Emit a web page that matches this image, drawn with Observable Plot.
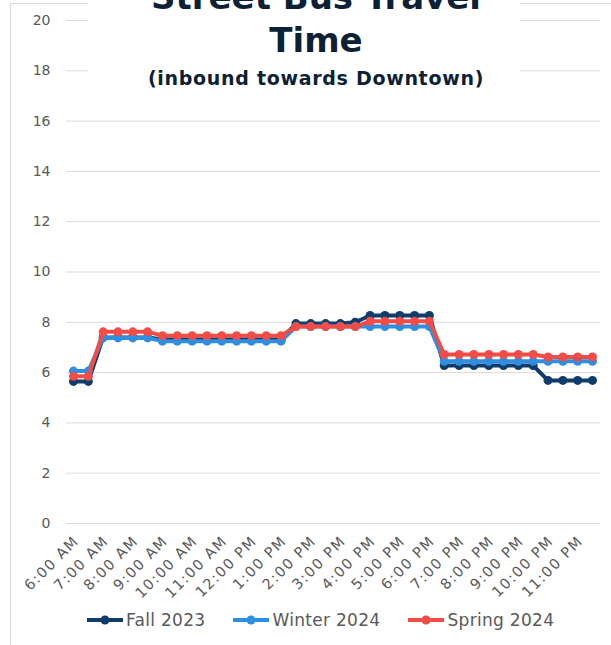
<!DOCTYPE html>
<html><head><meta charset="utf-8">
<script src="https://cdn.jsdelivr.net/npm/d3@7"></script>
<script src="https://cdn.jsdelivr.net/npm/@observablehq/plot@0.6"></script>
<style>
body{margin:0;background:#fff;font-family:"DejaVu Sans",sans-serif;}
#wrap{position:relative;width:611px;height:645px;overflow:hidden;background:#fff;}
#frame{position:absolute;left:10px;top:3px;width:700px;height:700px;border-left:1px solid #d9d9d9;border-top:1px solid #d9d9d9;}
#chart{position:absolute;left:0;top:0;}
#titlebox{position:absolute;left:88px;top:0;width:432px;height:96px;background:#fff;overflow:hidden;color:#0d2136;}
.tl{position:absolute;left:24px;right:0;text-align:center;font-weight:bold;font-size:34px;line-height:40px;white-space:nowrap;}
.sub{position:absolute;left:24px;right:0;text-align:center;font-weight:bold;font-size:19px;letter-spacing:0.7px;line-height:22px;top:67px;white-space:nowrap;}
#legend{position:absolute;left:86px;top:610px;display:flex;align-items:center;font-size:17px;letter-spacing:0.3px;color:#595959;}
#legend .item{display:flex;align-items:center;margin-right:27px;}
#legend svg{margin-right:2px;}
#chart svg g[aria-label="x-axis tick label"] text{letter-spacing:1.5px;}
</style></head>
<body>
<div id="wrap">
  <div id="frame"></div>
  <div id="chart"></div>
  <div id="titlebox">
    <div class="tl" style="top:-23px">Street Bus Travel</div>
    <div class="tl" style="top:20px">Time</div>
    <div class="sub">(inbound towards Downtown)</div>
  </div>
  <div id="legend"></div>
</div>
<script>
const times = ["6:00 AM","6:30 AM","7:00 AM","7:30 AM","8:00 AM","8:30 AM","9:00 AM","9:30 AM","10:00 AM","10:30 AM","11:00 AM","11:30 AM","12:00 PM","12:30 PM","1:00 PM","1:30 PM","2:00 PM","2:30 PM","3:00 PM","3:30 PM","4:00 PM","4:30 PM","5:00 PM","5:30 PM","6:00 PM","6:30 PM","7:00 PM","7:30 PM","8:00 PM","8:30 PM","9:00 PM","9:30 PM","10:00 PM","10:30 PM","11:00 PM","11:30 PM"];
const hourLabels = ["6:00 AM","7:00 AM","8:00 AM","9:00 AM","10:00 AM","11:00 AM","12:00 PM","1:00 PM","2:00 PM","3:00 PM","4:00 PM","5:00 PM","6:00 PM","7:00 PM","8:00 PM","9:00 PM","10:00 PM","11:00 PM"];
const yTicks = [0,2,4,6,8,10,12,14,16,18,20];
const fall   = [5.65,5.65,7.40,7.40,7.40,7.40,7.32,7.32,7.32,7.32,7.32,7.32,7.32,7.32,7.32,7.95,7.95,7.95,7.95,8.00,8.27,8.27,8.27,8.27,8.27,6.28,6.28,6.28,6.28,6.28,6.28,6.28,5.69,5.69,5.69,5.69];
const winter = [6.06,6.06,7.38,7.38,7.38,7.38,7.25,7.25,7.25,7.25,7.25,7.25,7.25,7.25,7.25,7.83,7.83,7.83,7.83,7.83,7.83,7.83,7.83,7.83,7.83,6.45,6.45,6.45,6.45,6.45,6.45,6.45,6.45,6.45,6.45,6.45];
const spring = [5.85,5.85,7.62,7.62,7.62,7.62,7.47,7.47,7.47,7.47,7.47,7.47,7.47,7.47,7.47,7.83,7.83,7.83,7.83,7.83,8.04,8.04,8.04,8.04,8.04,6.72,6.72,6.72,6.72,6.72,6.72,6.72,6.62,6.62,6.62,6.62];
const seriesNames = ["Fall 2023","Winter 2024","Spring 2024"];
const colors = ["#0e3d6c","#2e8ee2","#f14c46"];

const seriesData = [fall, winter, spring].map((arr, s) =>
  arr.map((v, i) => ({series: seriesNames[s], time: times[i], value: v})));

const chart = Plot.plot({
  width: 611, height: 645,
  marginLeft: 66, marginRight: 11, marginTop: 20, marginBottom: 122,
  style: {background: "transparent", fontFamily: "DejaVu Sans", fontSize: "14px", color: "#595959"},
  x: {type: "point", domain: times, range: [73, 592], padding: 0, round: false},
  y: {domain: [0, 20]},
  color: {domain: seriesNames, range: colors},
  marks: [
    Plot.gridY(yTicks, {stroke: "#d9d9d9", strokeOpacity: 1, strokeWidth: 1}),
    Plot.axisY(yTicks, {tickSize: 0, tickPadding: 16, fontSize: 14, fill: "#595959", label: null}),
    Plot.axisX(hourLabels, {tickSize: 0, tickRotate: -45, tickPadding: 15, dx: 3, fontSize: 14.5, fill: "#595959", label: null}),
    ...seriesData.flatMap(d => [
      Plot.line(d, {x: "time", y: "value", stroke: "series", strokeWidth: 4}),
      Plot.dot(d, {x: "time", y: "value", fill: "series", r: 4.5})
    ])
  ]
});
document.getElementById("chart").appendChild(chart);

const legend = document.getElementById("legend");
seriesNames.forEach((name, i) => {
  const item = document.createElement("div");
  item.className = "item";
  item.innerHTML = `<svg width="38" height="12"><line x1="1" y1="6" x2="37" y2="6" stroke="${colors[i]}" stroke-width="4"/><circle cx="19" cy="6" r="4.5" fill="${colors[i]}"/></svg><span>${name}</span>`;
  legend.appendChild(item);
});
</script>
</body></html>
